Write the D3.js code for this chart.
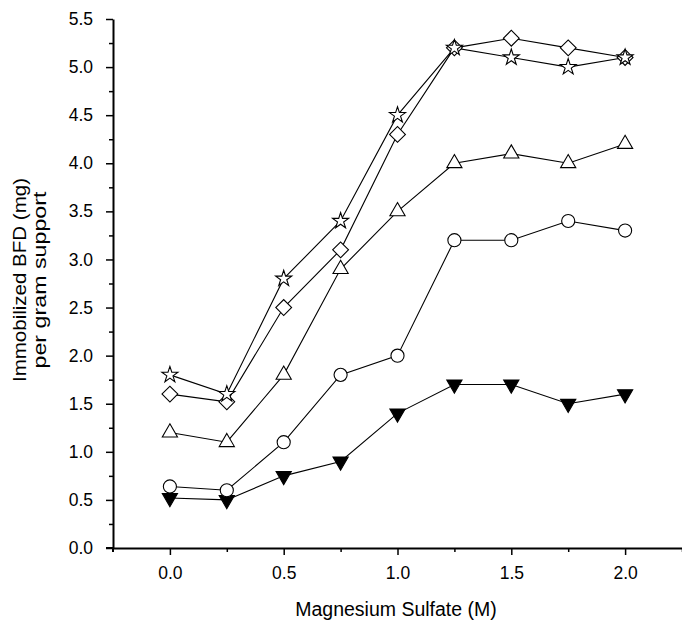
<!DOCTYPE html>
<html>
<head>
<meta charset="utf-8">
<script src="https://cdn.jsdelivr.net/npm/d3@7"></script>
<style>
  html, body { margin: 0; padding: 0; background: #fff; }
  svg { display: block; }
  text { font-family: "Liberation Sans", Arial, Helvetica, sans-serif; fill: #000; }
</style>
</head>
<body>
<svg id="chart" width="682" height="620"></svg>
<script>
// ---- data ----
const concentrations = [0.0, 0.25, 0.5, 0.75, 1.0, 1.25, 1.5, 1.75, 2.0];
const starSeries     = [1.8, 1.6, 2.8, 3.4, 4.5, 5.2, 5.1, 5.0, 5.1];
const diamondSeries  = [1.6, 1.52, 2.5, 3.1, 4.3, 5.2, 5.3, 5.2, 5.1];
const triUpSeries    = [1.2, 1.1, 1.8, 2.9, 3.5, 4.0, 4.1, 4.0, 4.2];
const circleSeries   = [0.64, 0.6, 1.1, 1.8, 2.0, 3.2, 3.2, 3.4, 3.3];
const triDownSeries  = [0.52, 0.5, 0.75, 0.9, 1.4, 1.7, 1.7, 1.5, 1.6];
const xTickLabels = [0.0, 0.5, 1.0, 1.5, 2.0];
const yTickLabels = [0.0, 0.5, 1.0, 1.5, 2.0, 2.5, 3.0, 3.5, 4.0, 4.5, 5.0, 5.5];
const xMinorTicks = [0.25, 0.75, 1.25, 1.75, 2.25];
const yMinorTicks = [0.25, 0.75, 1.25, 1.75, 2.25, 2.75, 3.25, 3.75, 4.25, 4.75, 5.25];
const xTitle = "Magnesium Sulfate (M)";
const yTitle = ["Immobilized BFD (mg)", "per gram support"];

const series = [
  { name: "triDown", values: triDownSeries, symbol: d3.symbolTriangle, size: 100, rotate: 180, fill: "#000" },
  { name: "circle",  values: circleSeries,  symbol: d3.symbolCircle,   size: 135, rotate: 0,   fill: "#fff" },
  { name: "triUp",   values: triUpSeries,   symbol: d3.symbolTriangle, size: 100, rotate: 0,   fill: "#fff" },
  { name: "diamond", values: diamondSeries, symbol: d3.symbolSquare,   size: 125, rotate: 45,  fill: "#fff" },
  { name: "star",    values: starSeries,    symbol: d3.symbolStar,     size: 80,  rotate: 0,   fill: "#fff" }
];

// ---- layout ----
const svg = d3.select("#chart");
const x = d3.scaleLinear().domain([-0.25, 2.25]).range([113, 682]);
const y = d3.scaleLinear().domain([0, 5.5]).range([548, 19]);

// axes
const gx = svg.append("g").attr("transform", `translate(0,${y(0)})`);
gx.call(d3.axisBottom(x).tickValues(xTickLabels).tickSize(7).tickSizeOuter(0).tickPadding(12)
  .tickFormat(d3.format(".1f")));
const gxm = svg.append("g").attr("transform", `translate(0,${y(0)})`);
gxm.call(d3.axisBottom(x).tickValues(xMinorTicks).tickSize(4).tickSizeOuter(0).tickFormat(""));

const gy = svg.append("g").attr("transform", `translate(${x(-0.25)},0)`);
gy.call(d3.axisLeft(y).tickValues(yTickLabels).tickSize(7).tickSizeOuter(0).tickPadding(13)
  .tickFormat(d3.format(".1f")));
const gym = svg.append("g").attr("transform", `translate(${x(-0.25)},0)`);
gym.call(d3.axisLeft(y).tickValues(yMinorTicks).tickSize(4).tickSizeOuter(0).tickFormat(""));

[gx, gxm, gy, gym].forEach(g => {
  g.selectAll(".domain").attr("stroke", "#000").attr("stroke-width", 2);
  g.selectAll(".tick line").attr("stroke", "#000").attr("stroke-width", 1.5);
  g.selectAll(".tick text").attr("font-size", 17.5).attr("font-family", "Liberation Sans, Arial, sans-serif");
});
gym.select(".domain").remove();
gxm.select(".domain").remove();
// extend axes slightly past their crossing like the original
svg.append("line").attr("x1", x(-0.25) - 7).attr("x2", x(-0.25))
  .attr("y1", y(0)).attr("y2", y(0)).attr("stroke", "#000").attr("stroke-width", 2);
svg.append("line").attr("x1", x(-0.25)).attr("x2", x(-0.25))
  .attr("y1", y(0)).attr("y2", y(0) + 4).attr("stroke", "#000").attr("stroke-width", 2);

// titles
svg.append("text").attr("x", 396).attr("y", 616)
  .attr("text-anchor", "middle").attr("font-size", 19.5).text(xTitle);
const yt = svg.append("text").attr("transform", `translate(26,280) rotate(-90)`)
  .attr("text-anchor", "middle").attr("font-size", 19);
yt.append("tspan").attr("x", 0).attr("dy", 0)
  .attr("textLength", 204).attr("lengthAdjust", "spacingAndGlyphs").text(yTitle[0]);
yt.append("tspan").attr("x", 0).attr("dy", 20)
  .attr("textLength", 177).attr("lengthAdjust", "spacingAndGlyphs").text(yTitle[1]);

// lines
const line = d3.line().x((d, i) => x(concentrations[i])).y(d => y(d));
series.forEach(s => {
  svg.append("path").datum(s.values).attr("d", line)
    .attr("fill", "none").attr("stroke", "#000").attr("stroke-width", 1.1);
});

// markers
series.forEach(s => {
  const sym = d3.symbol().type(s.symbol).size(s.size);
  svg.append("g").selectAll("path").data(s.values).join("path")
    .attr("d", sym)
    .attr("transform", (d, i) => `translate(${x(concentrations[i])},${y(d)}) rotate(${s.rotate})`)
    .attr("fill", s.fill).attr("stroke", "#000").attr("stroke-width", 1.1);
});
</script>
</body>
</html>
